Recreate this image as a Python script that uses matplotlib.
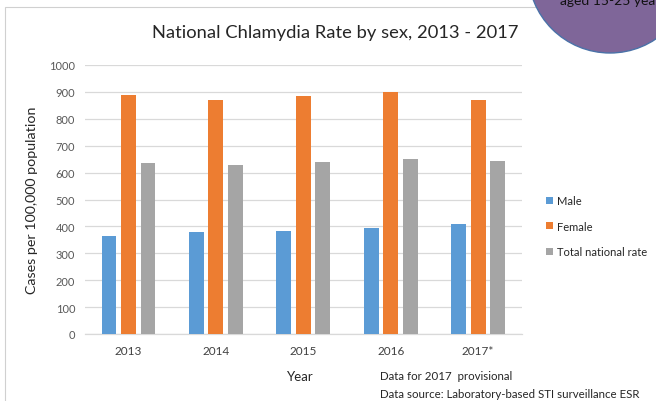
import matplotlib
matplotlib.use("Agg")
import matplotlib.pyplot as plt
import numpy as np
from matplotlib.patches import Ellipse, Rectangle

plt.rcParams['font.family'] = ['Lato', 'DejaVu Sans']

years = ["2013", "2014", "2015", "2016", "2017*"]
male = [365, 378, 384, 395, 409]
female = [888, 870, 884, 898, 870]
total = [636, 628, 638, 650, 643]
series_names = ["Male", "Female", "Total national rate"]
colors = ["#5b9bd5", "#ed7d31", "#a5a5a5"]

W, H = 656, 402
fig = plt.figure(figsize=(W / 100, H / 100), dpi=100)
fig.patch.set_facecolor("white")

# outer chart frame
fig.add_artist(Rectangle((5 / W, -0.1), 1.2, (H - 8) / H + 0.1,
                         transform=fig.transFigure, fill=False,
                         edgecolor="#d0d0d0", linewidth=0.8))

ax = fig.add_axes([84.8 / W, 67 / H, 437 / W, 269 / H])
x = np.arange(len(years))
w = 0.17
step = 0.223
for i, (vals, name, c) in enumerate(zip([male, female, total], series_names, colors)):
    ax.bar(x + (i - 1) * step, vals, width=w, color=c, label=name, zorder=3)

ax.set_xlim(-0.5, len(years) - 0.5)
ax.set_ylim(0, 1000)
ax.set_yticks(np.arange(0, 1001, 100))
ax.set_xticks(x)
ax.set_xticklabels(years, fontsize=8.5, color="#404040")
ax.tick_params(axis="y", labelsize=8, colors="#595959", length=0, pad=7)
ax.tick_params(axis="x", length=0, pad=8)
ax.grid(axis="y", color="#d9d9d9", linewidth=0.9, zorder=0)
for s in ["top", "right", "left"]:
    ax.spines[s].set_visible(False)
ax.spines["bottom"].set_color("#d9d9d9")
ax.spines["bottom"].set_linewidth(0.9)

ax.set_ylabel("Cases per 100,000 population", fontsize=10.3, color="#262626", labelpad=8)

fig.text(335 / W, 1 - 33 / H, "National Chlamydia Rate by sex, 2013 - 2017",
         ha="center", va="center", fontsize=13.2, color="#262626")
fig.text(300 / W, 1 - 377 / H, "Year", ha="center", va="center",
         fontsize=9.5, color="#262626")
fig.text(380 / W, 1 - 377 / H, "Data for 2017  provisional", ha="left", va="center",
         fontsize=8.3, color="#262626")
fig.text(380 / W, 1 - 395 / H, "Data source: Laboratory-based STI surveillance ESR",
         ha="left", va="center", fontsize=8.3, color="#262626")

ax.legend(loc="upper left", bbox_to_anchor=(536 / W, 1 - 186 / H),
          bbox_transform=fig.transFigure, frameon=False, fontsize=8,
          handlelength=0.6, handleheight=0.6, handletextpad=0.4,
          labelspacing=1.32, labelcolor="#262626")

# purple callout bubble in the corner
fig.add_artist(Ellipse((610 / W, 1 + 28 / H), 2 * 82 / W, 2 * 82 / H,
                       transform=fig.transFigure, facecolor="#7f6699",
                       edgecolor="#4a72a8", linewidth=1.0, zorder=10))
fig.text(560 / W, 1 - 1 / H, "aged 15-25 years", ha="left", va="center",
         fontsize=10, color="#111111", zorder=11)

fig.savefig("out.png", dpi=100)
